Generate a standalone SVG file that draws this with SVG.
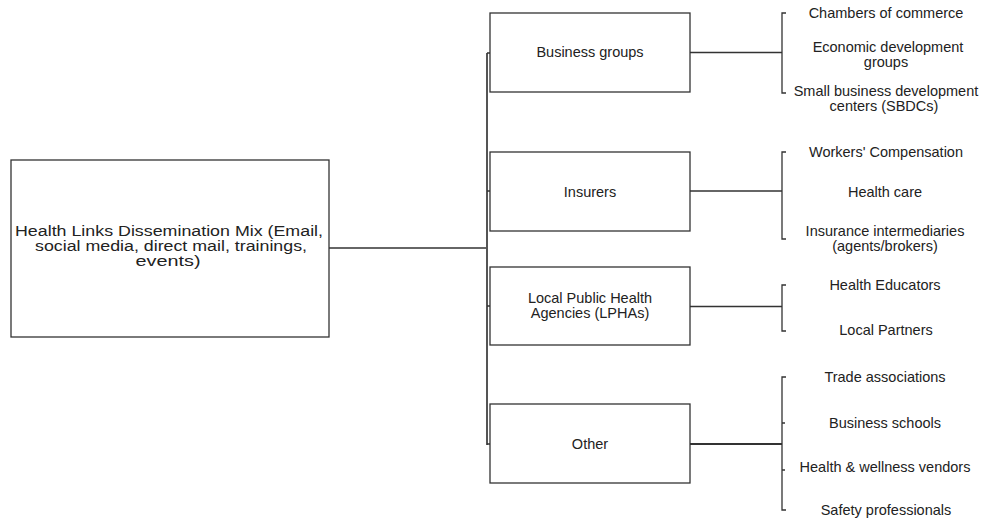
<svg xmlns="http://www.w3.org/2000/svg" width="994" height="523" viewBox="0 0 994 523">
<style>
  .box { fill: #ffffff; stroke: #333333; stroke-width: 1.3; }
  .ln { fill: none; stroke: #333333; stroke-width: 1.3; }
  .spine { fill: none; stroke: #555555; stroke-width: 2; }
  text { font-family: "Liberation Sans", Arial, sans-serif; fill: #222222; text-anchor: middle; }
  .main { font-size: 14px; }
  .lbl { font-size: 14.5px; }
  .leaf { font-size: 14.5px; }
</style>
<rect width="994" height="523" fill="#ffffff"/>
<g id="connectors">
  <path class="ln" d="M329,248 H487"/>
  <path class="spine" d="M487,53 V445"/>
  <path class="ln" d="M487,53 H490 M487,191 H490 M487,306 H490 M487,444 H490"/>
  <path class="ln" d="M690,52.5 H782"/>
  <path class="ln" d="M786,13 H782 V93 H786"/>
  <path class="ln" d="M690,191 H782"/>
  <path class="ln" d="M786,152 H782 V239 H786"/>
  <path class="ln" d="M690,306.5 H782"/>
  <path class="ln" d="M786,285 H782 V331 H786"/>
  <path class="ln" d="M690,444 H782" style="stroke-width:2"/>
  <path class="ln" d="M786,377 H782 V510 H786 M782,423 H785 M782,470 H785"/>
</g>
<g id="root">
  <rect class="box" x="11" y="160" width="318" height="177"/>
  <text class="main" x="169" y="235.5" textLength="308" lengthAdjust="spacingAndGlyphs">Health Links Dissemination Mix (Email,</text>
  <text class="main" x="171" y="250.5" textLength="272" lengthAdjust="spacingAndGlyphs">social media, direct mail, trainings,</text>
  <text class="main" x="168" y="265.5" textLength="65" lengthAdjust="spacingAndGlyphs">events)</text>
</g>
<g id="business-groups">
  <rect class="box" x="490" y="13" width="200" height="79"/>
  <text class="lbl" x="590" y="57">Business groups</text>
</g>
<g id="insurers">
  <rect class="box" x="490" y="152" width="200" height="79"/>
  <text class="lbl" x="590" y="196.5">Insurers</text>
</g>
<g id="lphas">
  <rect class="box" x="490" y="267" width="200" height="78"/>
  <text class="lbl" x="590" y="302.5">Local Public Health</text>
  <text class="lbl" x="590" y="317.5">Agencies (LPHAs)</text>
</g>
<g id="other">
  <rect class="box" x="490" y="404" width="200" height="79"/>
  <text class="lbl" x="590" y="448.5">Other</text>
</g>
<g id="leaves-business">
  <text class="leaf" x="886" y="18">Chambers of commerce</text>
  <text class="leaf" x="888" y="52">Economic development</text>
  <text class="leaf" x="886" y="67">groups</text>
  <text class="leaf" x="886" y="96">Small business development</text>
  <text class="leaf" x="884" y="111">centers (SBDCs)</text>
</g>
<g id="leaves-insurers">
  <text class="leaf" x="886" y="156.5">Workers' Compensation</text>
  <text class="leaf" x="885" y="196.5">Health care</text>
  <text class="leaf" x="885" y="235.5">Insurance intermediaries</text>
  <text class="leaf" x="885" y="250.5">(agents/brokers)</text>
</g>
<g id="leaves-lphas">
  <text class="leaf" x="885" y="290">Health Educators</text>
  <text class="leaf" x="886" y="335">Local Partners</text>
</g>
<g id="leaves-other">
  <text class="leaf" x="885" y="381.5">Trade associations</text>
  <text class="leaf" x="885" y="427.5">Business schools</text>
  <text class="leaf" x="885" y="472">Health &amp; wellness vendors</text>
  <text class="leaf" x="886" y="515">Safety professionals</text>
</g>
</svg>
